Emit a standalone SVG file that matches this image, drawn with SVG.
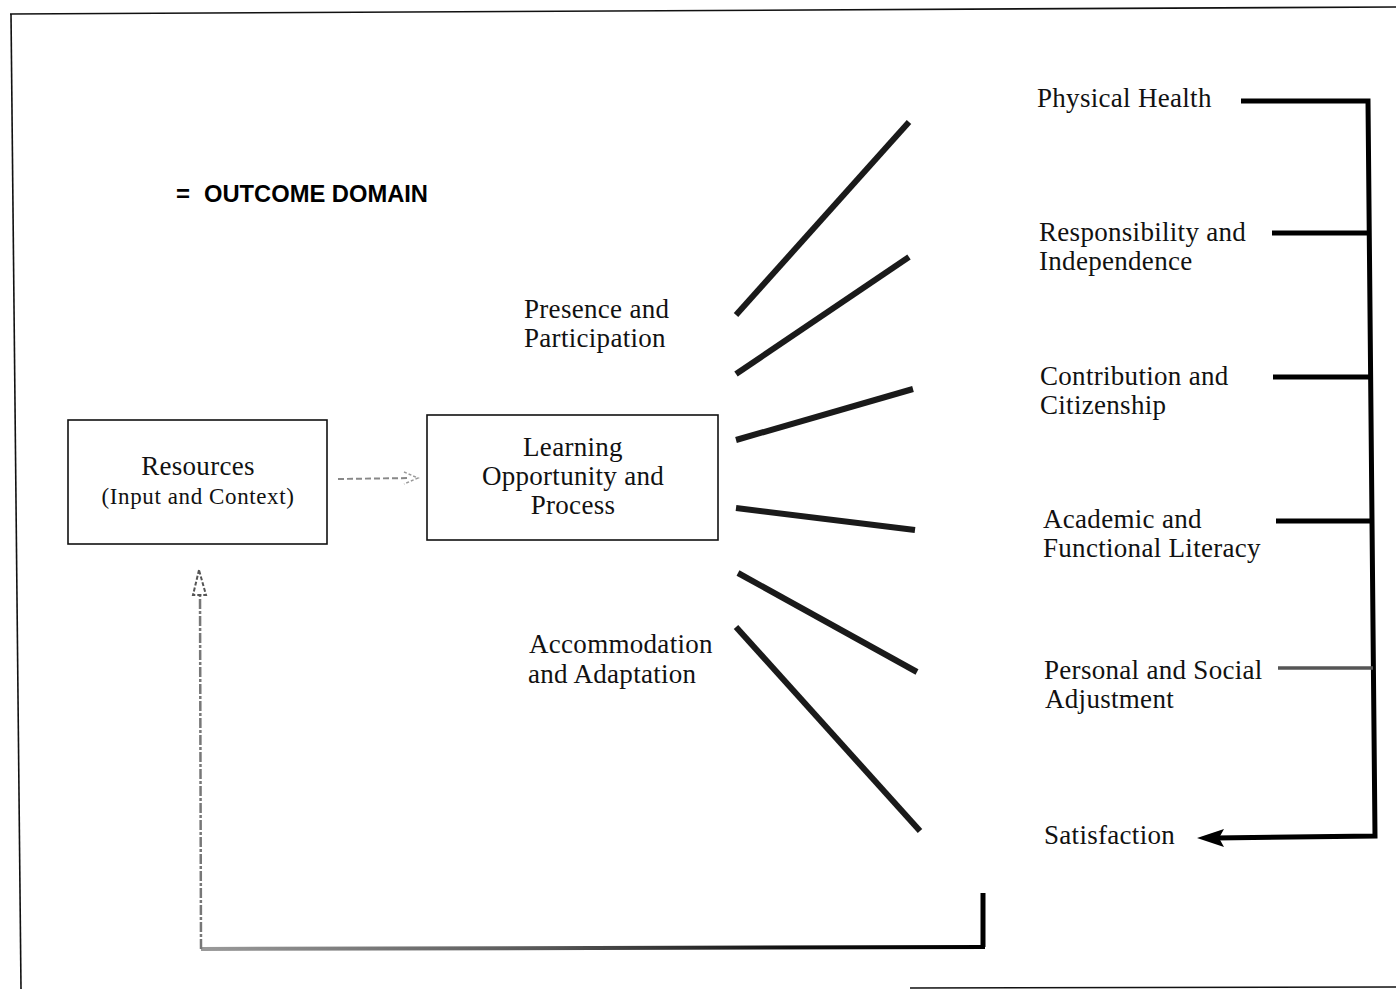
<svg xmlns="http://www.w3.org/2000/svg" width="1396" height="989" viewBox="0 0 1396 989">
<style>
.t{font-family:"Liberation Serif","Times New Roman",serif;font-size:27px;letter-spacing:0.3px;fill:#111}
.ts{font-family:"Liberation Serif","Times New Roman",serif;font-size:23px;fill:#111}
.h{font-family:"Liberation Sans",Arial,sans-serif;font-size:24px;font-weight:bold;fill:#000}
.box{fill:#fff;stroke:#111;stroke-width:1.6}
.ray{stroke:#1a1a1a;stroke-width:6;stroke-linecap:butt;fill:none}
.br{stroke:#000;stroke-width:5;fill:none}
</style>
<defs>
<linearGradient id="fb" gradientUnits="userSpaceOnUse" x1="201" y1="0" x2="985" y2="0">
<stop offset="0" stop-color="#9a9a9a"/>
<stop offset="0.45" stop-color="#555"/>
<stop offset="0.75" stop-color="#111"/>
<stop offset="1" stop-color="#000"/>
</linearGradient>
</defs>
<rect width="1396" height="989" fill="#fff"/>
<g id="frame" fill="none" stroke="#111" stroke-width="1.6">
<path d="M10,14 L1396,7"/>
<path d="M11,14 L21,989"/>
<path d="M910,988 L1396,987"/>
</g>
<g id="legend"><text class="h" x="176" y="202">=</text><text class="h" x="204" y="202" textLength="224" lengthAdjust="spacingAndGlyphs">OUTCOME DOMAIN</text></g>
<g id="resources">
<rect class="box" x="68" y="420" width="259" height="124"/>
<text class="t" x="198" y="475" text-anchor="middle">Resources</text>
<text class="ts" x="198" y="504" text-anchor="middle" letter-spacing="0.6">(Input and Context)</text>
</g>
<g id="learning">
<rect class="box" x="427" y="415" width="291" height="125"/>
<text class="t" x="573" y="456" text-anchor="middle">Learning</text>
<text class="t" x="573" y="485" text-anchor="middle">Opportunity and</text>
<text class="t" x="573" y="514" text-anchor="middle">Process</text>
</g>
<g id="presence">
<text class="t" x="524" y="318">Presence and</text>
<text class="t" x="524" y="347">Participation</text>
</g>
<g id="accommodation">
<text class="t" x="529" y="653">Accommodation</text>
<text class="t" x="528" y="683">and Adaptation</text>
</g>
<g id="physical"><text class="t" x="1037" y="107">Physical Health</text></g>
<g id="responsibility">
<text class="t" x="1039" y="241">Responsibility and</text>
<text class="t" x="1039" y="270">Independence</text>
</g>
<g id="contribution">
<text class="t" x="1040" y="385">Contribution and</text>
<text class="t" x="1040" y="414">Citizenship</text>
</g>
<g id="academic">
<text class="t" x="1043" y="528">Academic and</text>
<text class="t" x="1043" y="557">Functional Literacy</text>
</g>
<g id="personal">
<text class="t" x="1044" y="679">Personal and Social</text>
<text class="t" x="1045" y="708">Adjustment</text>
</g>
<g id="satisfaction"><text class="t" x="1044" y="844">Satisfaction</text></g>
<g id="connectors">
<path d="M338,479 L410,478" stroke="#888" stroke-width="2" stroke-dasharray="6,3" fill="none"/>
<path d="M404,472 L418,478 L404,484" stroke="#999" stroke-width="1.5" stroke-dasharray="3,2" fill="none"/>
<path class="ray" d="M736,315 L909,122"/>
<path class="ray" d="M736,374 L909,257"/>
<path class="ray" d="M736,440 L913,389"/>
<path class="ray" d="M736,508 L915,530"/>
<path class="ray" d="M738,573 L917,672"/>
<path class="ray" d="M736,627 L920,831"/>
<path class="br" d="M1241,101 L1368,101 L1375,836 L1215,838"/>
<path class="br" d="M1272,233 L1369,233"/>
<path class="br" d="M1273,377 L1370,377" stroke="#333" stroke-width="4"/>
<path class="br" d="M1276,521 L1372,521"/>
<path d="M1278,668 L1373,668" stroke="#555" stroke-width="3.5" fill="none"/>
<path d="M1197,838 L1224,829 L1219,838 L1224,847 Z" fill="#000"/>
<path d="M983,893 L983,947" stroke="#000" stroke-width="5" fill="none"/>
<path d="M985,947 L201,949" stroke="url(#fb)" stroke-width="4" fill="none"/>
<path d="M201,949 L200,592" stroke="#777" stroke-width="2.5" stroke-dasharray="10,2,3,2" fill="none"/>
<path d="M199,570 L193,595 L206,595 Z" fill="none" stroke="#555" stroke-width="2" stroke-dasharray="4,2"/>
</g>
</svg>
